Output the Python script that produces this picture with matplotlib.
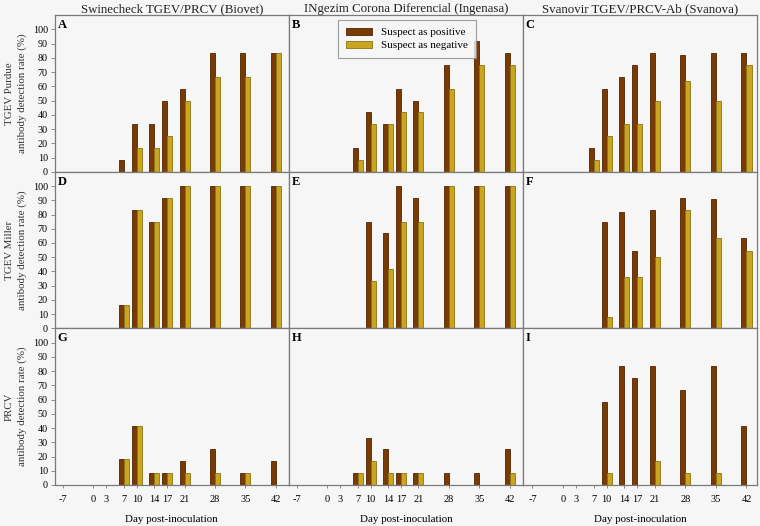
import numpy as np
import matplotlib
matplotlib.use("Agg")
import matplotlib.pyplot as plt

plt.rcParams['font.family'] = ['Liberation Serif', 'DejaVu Serif']

days = [-7, 0, 3, 7, 10, 14, 17, 21, 28, 35, 42]
kits = ["Swinecheck TGEV/PRCV (Biovet)",
        "INgezim Corona Diferencial (Ingenasa)",
        "Svanovir TGEV/PRCV-Ab (Svanova)"]
strains = ["TGEV Purdue", "TGEV Miller", "PRCV"]
panel_ids = ["A", "B", "C", "D", "E", "F", "G", "H", "I"]

# suspect as positive / suspect as negative, one list per panel
pos_A = [0, 0, 0, 8.3, 33.3, 33.3, 50, 58.3, 83.3, 83.3, 83.3]
neg_A = [0, 0, 0, 0, 16.7, 16.7, 25, 50, 66.7, 66.7, 83.3]
pos_B = [0, 0, 0, 16.7, 41.7, 33.3, 58.3, 50, 75, 91.7, 83.3]
neg_B = [0, 0, 0, 8.3, 33.3, 33.3, 41.7, 41.7, 58.3, 75, 75]
pos_C = [0, 0, 0, 16.7, 58.3, 66.7, 75, 83.3, 81.8, 83.3, 83.3]
neg_C = [0, 0, 0, 8.3, 25, 33.3, 33.3, 50, 63.6, 50, 75]
pos_D = [0, 0, 0, 16.7, 83.3, 75, 91.7, 100, 100, 100, 100]
neg_D = [0, 0, 0, 16.7, 83.3, 75, 91.7, 100, 100, 100, 100]
pos_E = [0, 0, 0, 0, 75, 66.7, 100, 91.7, 100, 100, 100]
neg_E = [0, 0, 0, 0, 33.3, 41.7, 75, 75, 100, 100, 100]
pos_F = [0, 0, 0, 0, 75, 81.8, 54.5, 83.3, 91.7, 90.9, 63.6]
neg_F = [0, 0, 0, 0, 8.3, 36.4, 36.4, 50, 83.3, 63.6, 54.5]
pos_G = [0, 0, 0, 18.2, 41.7, 8.3, 8.3, 16.7, 25, 8.3, 16.7]
neg_G = [0, 0, 0, 18.2, 41.7, 8.3, 8.3, 8.3, 8.3, 8.3, 0]
pos_H = [0, 0, 0, 8.3, 33.3, 25, 8.3, 8.3, 8.3, 8.3, 25]
neg_H = [0, 0, 0, 8.3, 16.7, 8.3, 8.3, 8.3, 0, 0, 8.3]
pos_I = [0, 0, 0, 0, 58.3, 83.3, 75, 83.3, 66.7, 83.3, 41.7]
neg_I = [0, 0, 0, 0, 8.3, 0, 0, 16.7, 8.3, 8.3, 0]

pos_all = [pos_A, pos_B, pos_C, pos_D, pos_E, pos_F, pos_G, pos_H, pos_I]
neg_all = [neg_A, neg_B, neg_C, neg_D, neg_E, neg_F, neg_G, neg_H, neg_I]

bg = "#f6f6f6"
c_pos, e_pos = "#7a3a04", "#4e2503"
c_neg, e_neg = "#c9a520", "#8a7416"
w = 1.15
xlims = [(-8.9, 45), (-8.8, 45), (-9.2, 44.4)]

fig, axes = plt.subplots(3, 3, figsize=(7.6, 5.26), dpi=100)
fig.patch.set_facecolor(bg)
fig.subplots_adjust(left=0.072, right=0.996, top=0.971, bottom=0.078,
                    wspace=0, hspace=0)

x = np.array(days)
for k, ax in enumerate(axes.flat):
    r, c = divmod(k, 3)
    ax.set_facecolor(bg)
    ax.bar(x - w / 2, pos_all[k], width=w, color=c_pos,
           edgecolor=e_pos, linewidth=0.6, label="Suspect as positive")
    ax.bar(x + w / 2, neg_all[k], width=w, color=c_neg,
           edgecolor=e_neg, linewidth=0.6, label="Suspect as negative")
    ax.set_ylim(0, 110)
    ax.set_xlim(*xlims[c])
    for s in ax.spines.values():
        s.set_color("#7a7a7a")
        s.set_linewidth(0.9)
    ax.text(0.012, 0.975, panel_ids[k], transform=ax.transAxes,
            fontsize=9, fontweight="bold", va="top", ha="left")
    if c == 0:
        ax.set_yticks(range(0, 101, 10))
        ax.tick_params(axis="y", labelsize=7.3, length=3, width=0.6,
                       color="#7a7a7a", pad=2)
        ax.set_ylabel(strains[r] + "\nantibody detection rate (%)",
                      fontsize=7.8, color="#333333", labelpad=4,
                      linespacing=1.5)
    else:
        ax.set_yticks([])
    if r == 2:
        ax.set_xticks(days)
        ax.set_xticklabels([str(d) for d in days])
        ax.tick_params(axis="x", labelsize=7.5, length=2, width=0.6,
                       color="#7a7a7a", pad=5)
        ax.set_xlabel("Day post-inoculation", fontsize=7.9, labelpad=8)
    else:
        ax.set_xticks([])
    if r == 0:
        ax.set_title(kits[c], fontsize=9.3, pad=2.5, color="#222222")
    if k == 1:
        leg = ax.legend(loc="upper left", bbox_to_anchor=(0.21, 0.97),
                        borderaxespad=0, fontsize=8, frameon=True,
                        fancybox=False, handlelength=2.4, handleheight=0.6,
                        borderpad=0.7, labelspacing=0.3, handletextpad=0.8)
        leg.get_frame().set_edgecolor("#888888")
        leg.get_frame().set_facecolor(bg)
        leg.get_frame().set_linewidth(0.8)

fig.savefig("out.png", dpi=100, facecolor=bg)
